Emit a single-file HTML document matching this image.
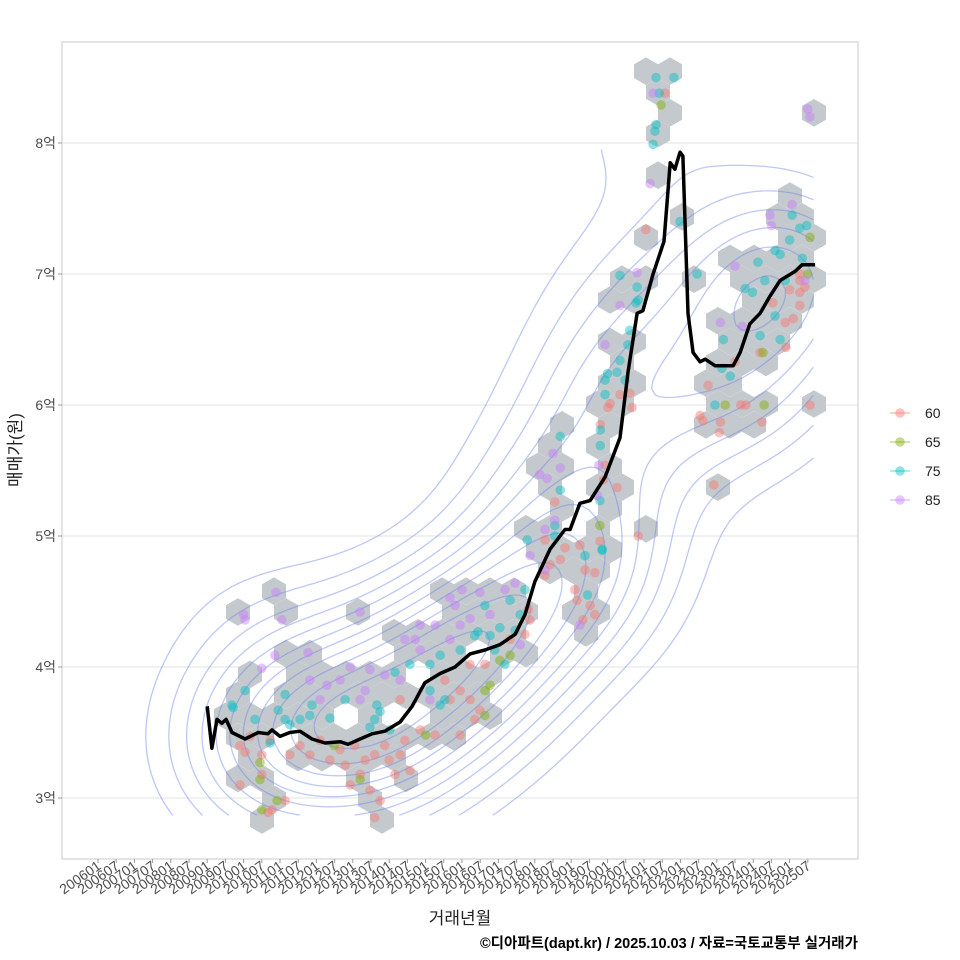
<!DOCTYPE html>
<html><head><meta charset="utf-8">
<style>
html,body{margin:0;padding:0;background:#fff;}
svg{display:block;font-family:"Liberation Sans","Noto Sans CJK KR",sans-serif;}
</style></head>
<body>
<svg id="chart" width="960" height="960" viewBox="0 0 960 960" xmlns="http://www.w3.org/2000/svg">
<rect x="0" y="0" width="960" height="960" fill="#fff"/>
<rect x="62" y="42" width="796" height="817" fill="#fff" stroke="#c8c8c8" stroke-width="1"/>
<g id="grid"></g>
<g id="hexes"></g>
<g id="contours"></g>
<g id="points"></g>
<g id="trend"></g>
<g id="yaxis"></g>
<g id="xaxis"></g>
<text transform="translate(21,450) rotate(-90)" text-anchor="middle" font-size="17" fill="#222">매매가(원)</text>
<text x="460" y="924" text-anchor="middle" font-size="17" fill="#222">거래년월</text>
<text x="858" y="948" text-anchor="end" font-size="14.5" font-weight="bold" fill="#000">©디아파트(dapt.kr) / 2025.10.03 / 자료=국토교통부 실거래가</text>
<g id="legend"></g>
</svg>
<script>
const yTicks = [3,4,5,6,7,8];
const yTickLabels = ["3억","4억","5억","6억","7억","8억"];
const xTickLabels = [];
for (let yr = 2006; yr <= 2025; yr++) { xTickLabels.push(yr + "01"); xTickLabels.push(yr + "07"); }

const lineT = [2009.0,2009.13,2009.27,2009.4,2009.52,2009.68,2010.04,2010.4,2010.67,2010.78,2011.0,2011.27,2011.55,2011.88,2012.24,2012.65,2012.87,2013.2,2013.53,2013.88,2014.3,2014.63,2014.98,2015.4,2015.81,2016.22,2016.63,2017.04,2017.46,2017.73,2018.0,2018.42,2018.83,2018.97,2019.24,2019.52,2019.93,2020.34,2020.56,2020.81,2020.97,2021.25,2021.55,2021.72,2021.85,2021.99,2022.07,2022.21,2022.35,2022.54,2022.68,2022.95,2023.23,2023.45,2023.64,2023.91,2024.19,2024.46,2024.74,2025.15,2025.34,2025.7];
const lineV = [3.70,3.38,3.60,3.57,3.60,3.50,3.45,3.50,3.49,3.52,3.47,3.50,3.51,3.45,3.42,3.43,3.41,3.45,3.49,3.51,3.58,3.70,3.88,3.95,4.00,4.10,4.13,4.17,4.25,4.40,4.65,4.90,5.05,5.05,5.25,5.27,5.45,5.75,6.25,6.70,6.72,7.00,7.25,7.85,7.80,7.93,7.90,6.70,6.40,6.33,6.35,6.30,6.30,6.30,6.40,6.62,6.70,6.83,6.95,7.02,7.07,7.07];

const seriesNames = ["60","65","75","85"];
const seriesColors = ["#F8766D","#7CAE00","#00BFC4","#C77CFF"];
const pts60 = [[2009.9,3.4],[2010.04,3.35],[2010.18,3.47],[2010.5,3.33],[2010.73,3.44],[2010.5,3.18],[2011.27,3.33],[2011.55,3.4],[2009.9,3.1],[2011.14,2.98],[2010.78,2.91],[2010.67,2.89],[2012.65,3.37],[2013.05,3.4],[2013.34,3.29],[2013.6,3.33],[2013.88,3.4],[2014.0,3.29],[2012.79,3.25],[2013.2,3.18],[2012.93,3.1],[2013.47,3.06],[2013.75,2.98],[2014.16,3.18],[2014.57,3.21],[2014.3,3.33],[2014.43,3.44],[2012.1,3.44],[2012.37,3.29],[2011.82,3.33],[2013.6,2.85],[2015.53,3.9],[2015.95,3.82],[2016.22,3.75],[2015.67,3.75],[2016.49,3.67],[2015.95,3.48],[2016.35,3.6],[2014.85,3.52],[2015.26,3.48],[2014.3,3.75],[2016.63,4.02],[2016.22,4.02],[2017.32,4.21],[2017.87,4.36],[2017.73,4.25],[2017.82,4.44],[2018.28,4.97],[2018.83,4.91],[2018.7,4.82],[2019.24,4.93],[2019.38,4.74],[2019.65,4.72],[2019.1,4.59],[2019.16,4.51],[2019.52,4.47],[2019.32,4.36],[2019.65,4.4],[2018.28,4.7],[2018.42,4.78],[2018.55,5.26],[2020.01,5.98],[2020.07,6.01],[2020.34,6.08],[2020.61,6.09],[2019.8,5.85],[2020.67,5.98],[2019.93,5.54],[2019.89,5.43],[2020.26,5.37],[2019.79,4.96],[2021.05,7.34],[2021.58,8.38],[2025.56,6.0],[2022.92,5.39],[2020.84,5.0],[2022.54,5.92],[2022.62,5.88],[2023.1,5.87],[2023.07,5.79],[2023.66,6.0],[2023.8,6.0],[2024.24,5.87],[2023.5,6.33],[2024.19,6.4],[2022.76,6.15],[2024.54,6.78],[2025.0,6.88],[2025.28,6.86],[2025.28,6.76],[2025.1,6.66],[2024.88,6.63],[2024.9,6.44],[2025.28,6.95],[2025.42,6.9],[2025.28,7.0]];
const pts65 = [[2010.45,3.27],[2010.45,3.14],[2010.5,2.91],[2010.92,2.98],[2013.2,3.14],[2012.49,3.4],[2015.0,3.48],[2016.63,3.82],[2016.77,3.86],[2016.63,3.63],[2017.04,4.05],[2017.32,4.09],[2019.79,5.08],[2021.47,8.29],[2023.23,6.0],[2024.3,6.0],[2024.27,6.4],[2025.56,7.28],[2025.5,7.0]];
const pts75 = [[2009.68,3.71],[2010.04,3.82],[2009.71,3.69],[2010.31,3.6],[2010.95,3.67],[2011.14,3.6],[2011.14,3.79],[2011.82,3.63],[2011.27,3.56],[2010.73,3.42],[2013.6,3.6],[2013.75,3.66],[2013.47,3.54],[2013.66,3.71],[2012.79,3.75],[2012.37,3.61],[2011.88,3.71],[2011.55,3.6],[2014.02,3.52],[2015.12,3.82],[2015.53,3.75],[2015.4,3.71],[2014.57,4.02],[2014.16,3.96],[2015.95,4.13],[2015.4,4.09],[2015.12,4.02],[2016.35,4.24],[2016.9,4.13],[2017.18,4.02],[2017.04,4.3],[2016.77,4.24],[2016.44,4.27],[2016.63,4.47],[2017.73,4.59],[2017.32,4.51],[2017.6,4.4],[2017.46,4.28],[2017.79,4.97],[2019.38,4.85],[2019.45,4.55],[2018.7,5.76],[2018.7,5.35],[2018.55,5.08],[2018.55,5.0],[2020.34,6.99],[2020.81,6.9],[2020.78,6.78],[2020.84,6.8],[2020.61,6.57],[2020.56,6.46],[2020.34,6.34],[2020.26,6.25],[2020.48,6.19],[2020.0,6.24],[2019.93,6.19],[2019.93,6.08],[2019.8,5.81],[2019.8,5.69],[2019.79,5.27],[2019.85,4.89],[2019.85,4.9],[2021.33,8.5],[2021.82,8.5],[2021.42,8.38],[2021.33,8.14],[2021.3,8.09],[2021.25,7.99],[2021.99,7.4],[2022.46,7.0],[2022.95,6.0],[2023.14,6.28],[2023.18,6.5],[2023.37,6.22],[2023.78,6.89],[2023.98,6.86],[2024.13,7.09],[2024.74,6.5],[2024.6,6.68],[2024.19,6.53],[2024.6,7.18],[2024.74,7.15],[2025.28,7.35],[2025.47,7.37],[2025.0,7.26],[2025.07,7.45],[2024.32,6.95],[2025.35,7.12],[2024.88,6.95]];
const pts85 = [[2010.0,4.4],[2010.04,4.36],[2010.89,4.57],[2011.05,4.36],[2010.86,4.09],[2011.77,4.11],[2010.5,3.99],[2012.29,3.86],[2013.2,4.42],[2013.2,3.75],[2013.34,3.82],[2013.88,3.94],[2013.47,3.98],[2012.93,4.0],[2012.65,3.9],[2012.1,3.75],[2011.82,3.9],[2015.12,3.75],[2014.3,3.9],[2014.43,4.21],[2014.85,4.13],[2014.71,4.21],[2015.26,4.32],[2014.85,4.32],[2015.95,4.32],[2016.22,4.37],[2015.81,4.47],[2015.67,4.53],[2016.0,4.59],[2016.49,4.57],[2016.77,4.4],[2017.46,4.64],[2017.18,4.59],[2017.6,4.17],[2015.67,4.21],[2017.87,4.85],[2018.28,4.74],[2019.24,4.32],[2018.5,5.63],[2018.14,5.47],[2018.34,5.44],[2018.7,5.52],[2018.55,5.12],[2018.28,5.05],[2020.81,7.01],[2020.34,6.76],[2019.93,6.46],[2019.76,5.54],[2019.72,5.31],[2021.25,8.38],[2021.17,7.69],[2025.5,8.26],[2025.56,8.2],[2023.1,6.63],[2023.5,7.06],[2024.5,7.37],[2024.46,7.45],[2025.07,7.53],[2025.42,6.95],[2023.7,6.6]];
const seriesPts = [pts60,pts65,pts75,pts85];

const NS = "http://www.w3.org/2000/svg";
const PX0 = 62, PX1 = 858, PY0 = 42, PY1 = 859;
function xScale(year){ return 98 + (year - 2006) * 36.4; }
function yScale(v){ return 798 - (v - 3) * 131; }
function mk(tag, attrs, parent){ const e = document.createElementNS(NS, tag); for (const k in attrs) e.setAttribute(k, attrs[k]); parent.appendChild(e); return e; }

const grid = document.getElementById('grid'), yaxis = document.getElementById('yaxis');
yTicks.forEach((t, i) => {
  const y = yScale(t);
  const gl = mk('line', {x1:PX0, x2:PX1, y1:y, y2:y, stroke:'#e3e3e3', 'stroke-width':1}, grid);
  
  
  const tk = mk('line', {x1:PX0-4, x2:PX0, y1:y, y2:y, stroke:'#999', 'stroke-width':1}, yaxis);
  
  
  const tx = mk('text', {x:PX0-6, y:y+5, 'text-anchor':'end', 'font-size':14, fill:'#4d4d4d'}, yaxis);
  tx.textContent = yTickLabels[i];
  
  
});
const xaxis = document.getElementById('xaxis');
xTickLabels.forEach((lab, i) => {
  const yr = +lab.slice(0,4) + (lab.slice(4) === "07" ? 0.5 : 0);
  const x = xScale(yr);
  const tk = mk('line', {x1:x, x2:x, y1:PY1, y2:PY1+4, stroke:'#999', 'stroke-width':1}, xaxis);
  
  
  const tx = mk('text', {transform:`translate(${x+4},${PY1+9}) rotate(-35)`, 'text-anchor':'end', 'font-size':14, fill:'#4d4d4d'}, xaxis);
  tx.textContent = lab;
  
  
});

const hexW = 24, hexRow = 20.8, hexR = 13.8, ox = 238, oy = 612;
const bins = {};
seriesPts.forEach(arr => arr.forEach(p => {
  const px = xScale(p[0]), py = yScale(p[1]);
  let best = null, bd = 1e9;
  const r0 = Math.round((py - oy) / hexRow);
  for (let r = r0-1; r <= r0+1; r++) {
    const off = (((r % 2) + 2) % 2) ? hexW/2 : 0;
    const c0 = Math.round((px - ox - off) / hexW);
    for (let c = c0-1; c <= c0+1; c++) {
      const cx = ox + off + c*hexW, cy = oy + r*hexRow;
      const d = (cx-px)**2 + (cy-py)**2;
      if (d < bd) { bd = d; best = [cx, cy]; }
    }
  }
  bins[best[0].toFixed(1) + ',' + best[1].toFixed(1)] = best;
}));
const hexG = document.getElementById('hexes');
Object.values(bins).forEach(b => {
  let d = '';
  for (let k = 0; k < 6; k++) {
    const a = Math.PI/2 + k*Math.PI/3;
    d += (k ? 'L' : 'M') + (b[0] + hexR*Math.cos(a)).toFixed(1) + ' ' + (b[1] + hexR*Math.sin(a)).toFixed(1);
  }
  const h = mk('path', {d: d + 'Z', fill:'#c4c9cd'}, hexG);
  
  
});

const allP = [];
seriesPts.forEach(arr => arr.forEach(p => allP.push([xScale(p[0]), yScale(p[1])])));
const gs = 7, gx0 = 120, gx1 = 815, gy0 = 150, gy1 = 815;
const nx = Math.floor((gx1-gx0)/gs), ny = Math.floor((gy1-gy0)/gs);
const bx = 70, by = 55;
const Z = [];
let zmax = 0;
for (let j = 0; j <= ny; j++) { Z.push([]); for (let i = 0; i <= nx; i++) {
  const X = gx0 + i*gs, Y = gy0 + j*gs; let s = 0;
  for (const p of allP) { const dx = (X-p[0])/bx, dy = (Y-p[1])/by; s += Math.exp(-0.5*(dx*dx+dy*dy)); }
  Z[j].push(s); if (s > zmax) zmax = s;
}}
const contG = document.getElementById('contours');
for (let L = 1; L <= 11; L++) {
  const lev = zmax * (0.04 + L*0.08);
  let d = '';
  for (let j = 0; j < ny; j++) for (let i = 0; i < nx; i++) {
    const v = [Z[j][i], Z[j][i+1], Z[j+1][i+1], Z[j+1][i]];
    const c = [[i,j],[i+1,j],[i+1,j+1],[i,j+1]];
    const pts = [];
    for (let e = 0; e < 4; e++) {
      const a = v[e], b = v[(e+1)%4];
      if ((a < lev) !== (b < lev)) {
        const t = (lev - a) / (b - a);
        const ca = c[e], cb = c[(e+1)%4];
        pts.push([gx0 + (ca[0] + t*(cb[0]-ca[0]))*gs, gy0 + (ca[1] + t*(cb[1]-ca[1]))*gs]);
      }
    }
    for (let q = 0; q + 1 < pts.length; q += 2)
      d += `M${pts[q][0].toFixed(1)} ${pts[q][1].toFixed(1)}L${pts[q+1][0].toFixed(1)} ${pts[q+1][1].toFixed(1)}`;
  }
  if (d) {
    const cp = mk('path', {d, fill:'none', stroke:'rgba(110,130,235,0.45)', 'stroke-width':1.3, 'stroke-linecap':'round'}, contG);
    
    
  }
}

const ptG = document.getElementById('points');
seriesPts.forEach((arr, si) => arr.forEach(p => {
  const c = mk('circle', {cx:xScale(p[0]), cy:yScale(p[1]), r:4.8, fill:seriesColors[si], 'fill-opacity':0.45}, ptG);
  
  
}));

const trendG = document.getElementById('trend');
const ld = lineT.map((t, i) => (i ? 'L' : 'M') + xScale(t).toFixed(1) + ' ' + yScale(lineV[i]).toFixed(1)).join('');
const tl = mk('path', {d: ld, fill:'none', stroke:'#000', 'stroke-width':3.5, 'stroke-linejoin':'round'}, trendG);



const legG = document.getElementById('legend');
seriesNames.forEach((n, i) => {
  const y = 413 + i*29;
  const g = mk('g', {}, legG);
  
  
  mk('line', {x1:890, x2:910, y1:y, y2:y, stroke:seriesColors[i], 'stroke-opacity':0.45, 'stroke-width':1.5}, g);
  mk('circle', {cx:900, cy:y, r:4.8, fill:seriesColors[i], 'fill-opacity':0.45}, g);
  const t = mk('text', {x:925, y:y+5, 'font-size':14, fill:'#222'}, g);
  t.textContent = n;
});
</script>
</body></html>
